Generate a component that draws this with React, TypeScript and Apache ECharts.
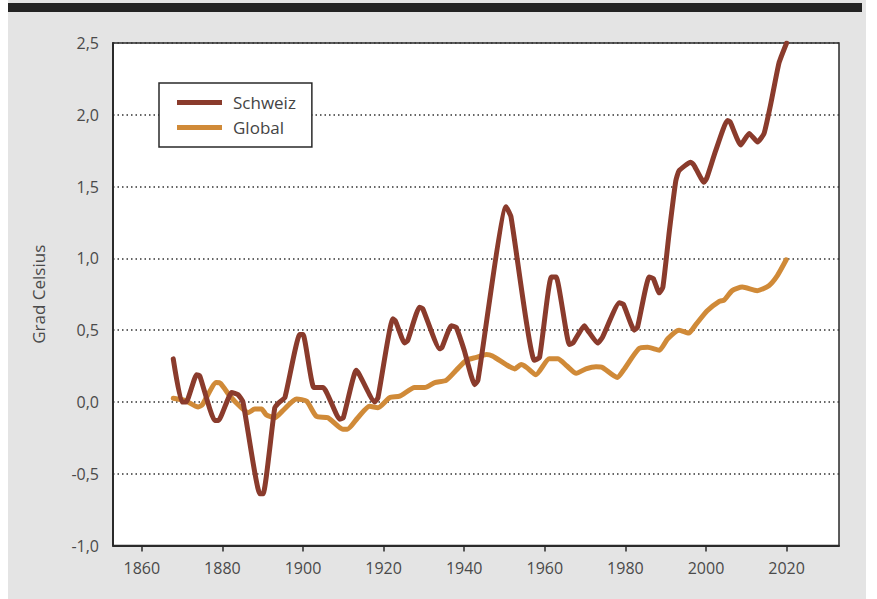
import React, { useEffect, useRef } from "react";
import * as echarts from "echarts";

const xTickYears = [1860, 1880, 1900, 1920, 1940, 1960, 1980, 2000, 2020];
const yTicks = [-1.0, -0.5, 0.0, 0.5, 1.0, 1.5, 2.0, 2.5];

const schweizYears = [
  1867.8, 1869.9, 1871, 1873.6, 1874.4, 1878.1, 1879, 1882.3, 1883.9, 1885.1,
  1889.3, 1890.1, 1893, 1894.2, 1895.5, 1899.2, 1900, 1902.7, 1905, 1909.1,
  1910, 1913.2, 1914, 1917.8, 1918.6, 1922.3, 1923, 1925.2, 1926, 1928.9,
  1929.7, 1933.9, 1934.5, 1936.8, 1938, 1940, 1942.6, 1943.4, 1950.4, 1951.6,
  1957.4, 1958.7, 1961.6, 1962.8, 1966.1, 1967, 1969.8, 1970.6, 1973.1, 1974.3,
  1978.5, 1979.5, 1982.2, 1983, 1985.9, 1986.9, 1988.4, 1989.3, 1990.9, 1992.5,
  1993.3, 1996.2, 1997, 1999.5, 2000.2, 2002.4, 2005.3, 2006, 2008.6, 2010.7,
  2012.8, 2014.4, 2016.1, 2018.1, 2020,
];
const schweizValues = [
  0.3, 0.0, 0.0, 0.19, 0.18, -0.13, -0.13, 0.065, 0.05, 0.0,
  -0.64, -0.64, -0.04, 0.0, 0.03, 0.47, 0.47, 0.1, 0.1, -0.12,
  -0.11, 0.22, 0.19, 0.0, 0.03, 0.58, 0.56, 0.41, 0.43, 0.66,
  0.65, 0.37, 0.38, 0.53, 0.52, 0.36, 0.12, 0.15, 1.36, 1.29,
  0.29, 0.31, 0.87, 0.87, 0.4, 0.41, 0.53, 0.5, 0.41, 0.45,
  0.69, 0.68, 0.5, 0.52, 0.87, 0.86, 0.76, 0.8, 1.19, 1.54,
  1.61, 1.67, 1.65, 1.53, 1.56, 1.75, 1.96, 1.95, 1.79, 1.87,
  1.81, 1.87, 2.08, 2.36, 2.5,
];

const globalYears = [
  1867.8, 1870.7, 1874, 1875, 1878.5, 1879.5, 1881.9, 1884.3, 1886.4, 1888,
  1889.7, 1890.9, 1893, 1895, 1898.4, 1900.9, 1903.3, 1906.2, 1909.9, 1911,
  1913.6, 1916.5, 1918.6, 1921.5, 1924, 1927.7, 1930.2, 1932.7, 1935.5, 1938,
  1940.5, 1943, 1945.5, 1947, 1950.4, 1952.5, 1954.1, 1955.5, 1957.8, 1961.1,
  1963.2, 1965.5, 1967.8, 1970.2, 1972.7, 1974.3, 1978, 1979.5, 1983.3, 1985.5,
  1988.4, 1990.5, 1993.3, 1995.7, 1997.5, 2000.3, 2003.3, 2004.5, 2006.5, 2009,
  2012.7, 2015.6, 2017.7, 2019.9,
];
const globalValues = [
  0.025, 0.01, -0.035, -0.02, 0.135, 0.13, 0.04, -0.03, -0.075, -0.05,
  -0.05, -0.09, -0.11, -0.06, 0.02, 0.005, -0.1, -0.11, -0.19, -0.19,
  -0.11, -0.03, -0.04, 0.03, 0.04, 0.1, 0.1, 0.135, 0.15, 0.22,
  0.29, 0.31, 0.33, 0.32, 0.26, 0.23, 0.26, 0.24, 0.19, 0.3,
  0.3, 0.25, 0.2, 0.23, 0.245, 0.24, 0.17, 0.22, 0.37, 0.38,
  0.36, 0.44, 0.5, 0.48, 0.54, 0.635, 0.7, 0.71, 0.775, 0.8,
  0.775, 0.81, 0.88, 0.99,
];

const seriesNames = ["Schweiz", "Global"];
const colors = ["#8a3b2c", "#d08a38"];

const FONT = "'Open Sans', 'Noto Sans', sans-serif";
const TEXT_COLOR = "#4a4a4a";

export default function App() {
  const ref = useRef<HTMLDivElement>(null);

  useEffect(() => {
    if (!ref.current) return;
    const chart = echarts.init(ref.current, null, { renderer: "svg" });
    const zip = (xs: number[], ys: number[]) => xs.map((x, i) => [x, ys[i]]);

    chart.setOption({
      animation: false,
      backgroundColor: "#ffffff",
      textStyle: { fontFamily: FONT },
      graphic: [
        {
          type: "rect",
          z: -10,
          silent: true,
          shape: { x: 8, y: 0, width: 858, height: 599 },
          style: { fill: "#e4e4e4" },
        },
        {
          type: "rect",
          z: -9,
          silent: true,
          shape: { x: 8, y: 3, width: 854, height: 9 },
          style: { fill: "#232323" },
        },
      ],
      grid: {
        left: 113,
        right: 38,
        top: 43,
        bottom: 53.5,
        show: true,
        backgroundColor: "#ffffff",
        borderColor: "#2a2a2a",
        borderWidth: 1.5,
        containLabel: false,
      },
      legend: {
        left: 159,
        top: 83,
        orient: "vertical",
        icon: "rect",
        itemWidth: 45,
        itemHeight: 5,
        itemGap: 8,
        padding: [11, 16, 11, 18],
        backgroundColor: "#ffffff",
        borderColor: "#2a2a2a",
        borderWidth: 1.5,
        borderRadius: 0,
        data: seriesNames,
        textStyle: {
          fontFamily: FONT,
          fontSize: 17,
          fontWeight: 400,
          color: "#444444",
          padding: [0, 0, 0, 6],
        },
      },
      xAxis: {
        type: "value",
        min: 1852.85,
        max: 2033,
        axisLine: {
          show: true,
          onZero: false,
          lineStyle: { color: "#2a2a2a", width: 2 },
        },
        axisTick: {
          show: true,
          inside: false,
          length: 6,
          lineStyle: { color: "#2a2a2a", width: 1.5 },
          customValues: xTickYears,
        },
        axisLabel: {
          customValues: xTickYears,
          margin: 14,
          fontFamily: FONT,
          fontSize: 16,
          fontWeight: 400,
          color: TEXT_COLOR,
          formatter: (v: number) => String(Math.round(v)),
        },
        splitLine: { show: false },
      },
      yAxis: {
        type: "value",
        min: -1,
        max: 2.5,
        interval: 0.5,
        name: "Grad Celsius",
        nameLocation: "middle",
        nameGap: 66,
        nameRotate: 90,
        nameTextStyle: {
          fontFamily: FONT,
          fontSize: 17,
          fontWeight: 400,
          color: TEXT_COLOR,
        },
        axisLine: {
          show: true,
          onZero: false,
          lineStyle: { color: "#2a2a2a", width: 2 },
        },
        axisTick: { show: false },
        axisLabel: {
          margin: 14,
          fontFamily: FONT,
          fontSize: 16,
          fontWeight: 400,
          color: TEXT_COLOR,
          formatter: (v: number) =>
            yTicks.includes(v) ? v.toFixed(1).replace(".", ",") : "",
        },
        splitLine: {
          show: true,
          lineStyle: { color: "#333333", width: 1.5, type: [1.5, 3] },
        },
      },
      series: [
        {
          name: seriesNames[1],
          type: "line",
          data: zip(globalYears, globalValues),
          showSymbol: false,
          smooth: 0.2,
          z: 2,
          lineStyle: { color: colors[1], width: 5, cap: "round", join: "round" },
          itemStyle: { color: colors[1] },
        },
        {
          name: seriesNames[0],
          type: "line",
          data: zip(schweizYears, schweizValues),
          showSymbol: false,
          smooth: 0.15,
          z: 3,
          lineStyle: { color: colors[0], width: 5, cap: "round", join: "round" },
          itemStyle: { color: colors[0] },
        },
      ],
    });
    return () => chart.dispose();
  }, []);

  return (
    <div
      ref={ref}
      style={{ position: "fixed", left: 0, top: 0, width: 877, height: 599 }}
    />
  );
}
